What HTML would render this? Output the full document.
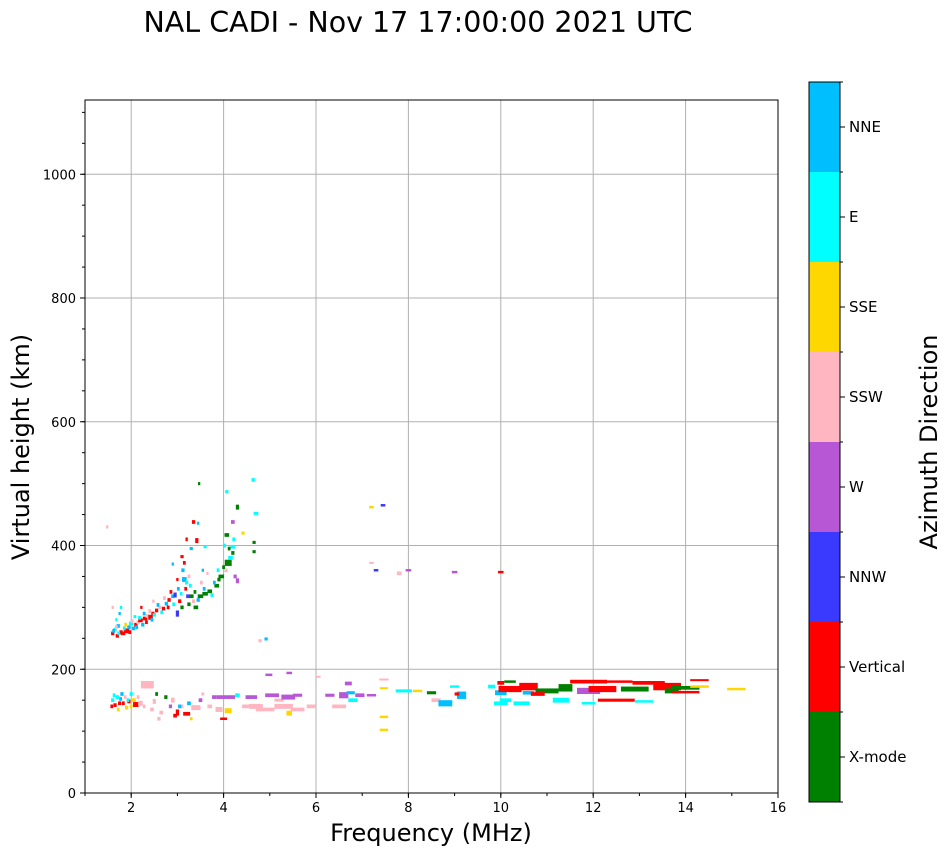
<!DOCTYPE html>
<html><head><meta charset="utf-8">
<style>
body{margin:0;background:#fff;font-family:"Liberation Sans",sans-serif}
svg text{font-family:"DejaVu Sans","Liberation Sans",sans-serif}
</style></head>
<body>
<svg id="chart" width="951" height="856" xmlns="http://www.w3.org/2000/svg">
<text x="418" y="32" font-size="28.5" text-anchor="middle">NAL CADI - Nov 17 17:00:00 2021 UTC</text>
<g id="grid"></g>
<g id="marks"></g>
<rect x="85" y="100" width="693" height="693" fill="none" stroke="#000" stroke-width="1"/>
<g id="axes"></g>
<text x="431" y="841" font-size="24" text-anchor="middle">Frequency (MHz)</text>
<text transform="translate(29,447) rotate(-90)" font-size="24" text-anchor="middle">Virtual height (km)</text>
<g id="cbar"></g>
<text transform="translate(937,442) rotate(-90)" font-size="24" text-anchor="middle">Azimuth Direction</text>
</svg>
<script>
const directions = ["X-mode","Vertical","NNW","W","SSW","SSE","E","NNE"];
const dirColors = ["#008000","#ff0000","#3a3aff","#b757d6","#ffb6c1","#ffd700","#00ffff","#00bfff"];
const xTicks = [2,4,6,8,10,12,14,16];
const yTicks = [0,200,400,600,800,1000];
// echoes: [frequency MHz, virtual height km, freq width MHz, height extent km, direction index]
const echoes = [
[1.6,258,.07,6,1],[1.65,264,.07,6,6],[1.7,254,.07,6,1],[1.72,270,.07,6,7],[1.78,260,.07,6,1],[1.82,258,.1,6,1],[1.9,262,.12,8,1],[1.95,268,.07,6,7],
[1.68,280,.05,5,6],[1.75,290,.05,5,7],[1.6,300,.05,5,4],[2.0,274,.1,6,6],[2.05,266,.07,6,7],[2.1,272,.07,6,1],[2.15,276,.07,6,4],[2.2,279,.1,6,1],
[2.25,272,.07,6,7],[2.3,282,.1,6,1],[2.35,286,.07,6,4],[2.42,284,.1,8,1],[2.47,290,.07,6,1],[2.5,288,.07,6,6],[2.55,295,.07,6,1],[2.62,300,.07,6,4],
[2.7,298,.07,6,1],[2.76,306,.07,6,7],[2.82,312,.07,6,1],[2.9,318,.07,6,7],[2.95,320,.07,8,2],[3.0,290,.07,10,2],[3.05,310,.07,6,1],[3.1,300,.07,6,0],
[3.15,345,.1,8,7],[3.2,340,.07,6,6],[3.12,360,.07,6,7],[3.25,305,.07,6,0],[3.3,318,.1,6,0],[3.35,310,.07,6,4],[3.4,300,.1,6,0],[3.45,312,.07,6,7],
[3.5,318,.12,6,0],[3.6,322,.12,6,0],[3.7,326,.1,6,0],[3.75,320,.07,6,6],[3.85,335,.1,6,0],[3.9,345,.07,6,0],[3.95,350,.12,6,0],[4.05,360,.07,6,4],
[4.1,372,.15,10,0],[4.15,380,.1,6,6],[4.2,388,.07,6,0],[4.25,350,.07,6,3],[4.3,343,.07,8,3],[4.2,398,.1,6,6],[4.07,417,.1,6,0],[4.42,420,.07,5,5],
[4.2,438,.08,6,3],[4.3,462,.07,8,0],[4.07,487,.07,5,6],[4.64,506,.07,6,6],[4.7,452,.1,5,6],[4.66,405,.07,5,0],[4.66,390,.07,5,0],[3.47,500,.05,5,0],
[3.35,438,.07,6,1],[3.45,436,.05,5,7],[3.2,410,.05,6,1],[3.42,408,.07,8,1],[3.3,395,.07,5,7],[3.1,382,.07,5,1],[2.9,370,.05,5,7],[3.6,398,.07,5,6],
[1.48,430,.05,5,4],[4.79,246,.07,5,4],[4.92,249,.07,5,7],[3.0,345,.05,5,1],[3.55,360,.05,5,7],[3.65,355,.05,5,4],
[1.62,262,.06,6,7],[1.68,268,.06,6,4],[1.73,258,.06,6,6],[1.85,266,.06,6,6],[1.88,272,.06,6,5],[1.97,260,.06,6,1],[2.02,278,.06,6,4],[2.08,285,.06,5,6],
[2.12,268,.06,6,7],[2.18,283,.06,6,6],[2.28,290,.06,6,7],[2.33,276,.06,6,1],[2.4,294,.06,6,4],[2.45,280,.06,6,7],[2.58,304,.06,6,7],[2.66,292,.06,6,6],
[2.72,315,.06,6,4],[2.8,300,.06,6,1],[2.86,325,.06,6,1],[2.92,305,.06,6,6],[3.02,330,.06,6,7],[3.08,322,.06,6,6],[3.18,330,.06,6,1],[3.22,318,.06,6,2],
[3.28,335,.06,6,6],[3.38,325,.06,6,0],[3.52,340,.06,6,4],[3.58,330,.06,6,7],[3.8,340,.06,6,7],[3.88,360,.06,6,6],[4.0,365,.06,6,0],[4.12,395,.06,6,0],
[4.22,410,.06,6,6],[4.02,400,.06,6,6],[3.25,350,.06,6,4],[3.15,372,.06,6,1],[1.78,300,.05,5,6],[2.22,300,.05,5,1],[2.48,310,.05,5,4],
[7.2,462,.1,4,5],[7.45,465,.1,4,2],[7.3,360,.1,4,2],[7.2,372,.1,3,4],[7.8,355,.1,6,4],[8.0,360,.12,4,3],[9.0,357,.12,4,3],[10.0,357,.12,4,1],
[1.6,150,.07,6,6],[1.65,142,.07,6,1],[1.7,155,.07,6,6],[1.75,145,.07,6,1],[1.8,160,.07,6,7],[1.9,138,.07,6,5],[1.95,148,.07,6,1],[2.0,160,.07,6,6],
[2.05,150,.1,6,5],[2.1,143,.12,8,1],[2.2,145,.1,8,4],[2.35,175,.28,12,4],[2.5,148,.07,8,4],[2.6,120,.07,6,4],[2.75,155,.07,6,0],[2.85,140,.07,6,3],
[1.58,140,.06,6,1],[1.63,158,.06,6,6],[1.72,135,.06,6,5],[1.77,152,.06,6,7],[1.83,145,.06,6,1],[1.87,155,.06,6,4],[1.93,150,.06,6,6],[2.0,140,.06,6,5],
[2.15,155,.06,6,4],[2.28,140,.06,6,4],[2.45,135,.08,6,4],[2.55,160,.06,6,0],[2.65,130,.08,6,4],[2.9,150,.08,8,4],[3.1,140,.06,6,4],[3.25,145,.08,6,7],
[3.5,150,.08,6,3],[3.55,160,.06,5,4],[2.95,125,.08,6,1],[3.3,120,.06,5,5],
[3.0,130,.07,10,1],[3.05,140,.07,6,7],[3.2,128,.15,6,1],[3.4,138,.2,8,4],[3.7,140,.1,6,4],[3.8,155,.1,6,3],[3.9,135,.15,8,4],[4.05,155,.4,6,3],
[4.1,133,.15,8,5],[4.0,120,.15,4,1],[4.3,158,.1,6,6],[4.6,155,.25,6,3],[4.7,140,.3,8,4],[4.98,191,.15,4,3],[5.05,158,.3,6,3],[5.3,140,.4,8,4],
[4.9,135,.4,6,4],[4.5,140,.2,6,4],[5.6,135,.3,6,4],[5.2,150,.2,5,4],
[5.42,194,.12,4,3],[5.4,155,.3,8,3],[5.42,129,.12,8,5],[5.6,158,.2,5,3],[5.9,140,.2,6,4],[6.05,188,.1,3,4],[6.3,158,.2,5,3],[6.5,140,.3,6,4],
[6.6,158,.2,10,3],[6.7,177,.15,6,3],[6.8,150,.2,6,6],[6.95,158,.2,6,3],[7.2,158,.2,4,3],[6.75,162,.18,5,7],[7.47,184,.2,2,4],[7.47,170,.18,2,5],
[7.47,123,.18,4,5],[7.47,102,.18,4,5],[7.9,165,.35,5,6],[8.2,165,.2,4,5],[8.5,162,.2,5,0],[8.6,150,.2,6,4],[8.8,145,.3,10,7],[9.0,172,.2,4,6],
[9.15,158,.2,12,7],[9.05,160,.1,5,1],[10.0,178,.15,6,1],[10.0,162,.25,8,7],[10.2,168,.5,10,1],[10.2,180,.25,4,0],[10.6,172,.4,12,1],[10.1,150,.25,6,6],
[10.45,145,.35,6,6],[10.6,162,.25,6,7],[11.0,165,.5,8,0],[11.4,170,.3,12,0],[11.3,150,.35,8,6],[11.9,165,.5,10,3],[11.9,180,.8,6,1],[12.2,168,.6,10,1],
[11.9,145,.3,4,6],[12.5,150,.8,5,1],[12.5,180,.7,4,1],[12.9,168,.6,8,0],[13.2,178,.7,6,1],[13.1,148,.4,4,6],[13.6,172,.6,12,1],[13.7,165,.3,8,0],
[14.0,170,.6,6,0],[14.0,163,.6,4,1],[14.3,172,.4,4,5],[14.3,183,.4,2,1],[15.1,168,.4,4,5],[10.8,160,.3,6,1],[9.8,172,.15,6,6],[10.0,145,.3,6,6]
];
const NS="http://www.w3.org/2000/svg";
const X0=85,X1=778,Y0=793,Y1=100;
function xs(f){return X0+(f-1)/15*(X1-X0);}
function ys(h){return Y0-h/1120*(Y0-Y1);}
function mk(tag,attrs,parent){const e=document.createElementNS(NS,tag);for(const k in attrs)e.setAttribute(k,attrs[k]);parent.appendChild(e);return e;}
const grid=document.getElementById('grid'),axes=document.getElementById('axes'),marks=document.getElementById('marks'),cbar=document.getElementById('cbar');
xTicks.forEach(t=>{
  const x=xs(t);
  const g=mk('line',{x1:x,x2:x,y1:Y1,y2:Y0,stroke:'#b0b0b0','stroke-width':1},grid);
  
  
  mk('line',{x1:x,x2:x,y1:Y0,y2:Y0+5,stroke:'#000'},axes);
  const tx=mk('text',{x:x,y:Y0+19,'font-size':13,'text-anchor':'middle'},axes);
  tx.textContent=t;
  
  
});
for(let f=1;f<=16;f++){mk('line',{x1:xs(f),x2:xs(f),y1:Y0,y2:Y0+3,stroke:'#000'},axes);}
yTicks.forEach(t=>{
  const y=ys(t);
  const g=mk('line',{x1:X0,x2:X1,y1:y,y2:y,stroke:'#b0b0b0','stroke-width':1},grid);
  
  
  mk('line',{x1:X0-5,x2:X0,y1:y,y2:y,stroke:'#000'},axes);
  const tx=mk('text',{x:X0-9,y:y+5,'font-size':13,'text-anchor':'end'},axes);
  tx.textContent=t;
  
  
});
for(let h=0;h<=1100;h+=50){mk('line',{x1:X0-3,x2:X0,y1:ys(h),y2:ys(h),stroke:'#000'},axes);}
echoes.forEach(e=>{
  const [f,h,w,d,c]=e;
  const x=xs(f-w/2),x2=xs(f+w/2),y=ys(h+d/2),y2=ys(h-d/2);
  const r=mk('rect',{x:x,y:y,width:Math.max(2,x2-x),height:Math.max(2,y2-y),fill:dirColors[c]},marks);
  
  
});
const CB0=82,CBH=90;
directions.forEach((d,i)=>{
  const y=CB0+(directions.length-1-i)*CBH;
  const r=mk('rect',{x:809,y:y,width:31,height:CBH,fill:dirColors[i]},cbar);
  
  
  mk('line',{x1:840,x2:845,y1:y+CBH/2,y2:y+CBH/2,stroke:'#000'},cbar);
  mk('line',{x1:840,x2:843,y1:y,y2:y,stroke:'#000'},cbar);
  const t=mk('text',{x:849,y:y+CBH/2+5,'font-size':15},cbar);
  t.textContent=d;
  
  
});
mk('line',{x1:840,x2:843,y1:CB0+8*CBH,y2:CB0+8*CBH,stroke:'#000'},cbar);
mk('rect',{x:809,y:CB0,width:31,height:8*CBH,fill:'none',stroke:'#000'},cbar);
</script>
</body></html>
